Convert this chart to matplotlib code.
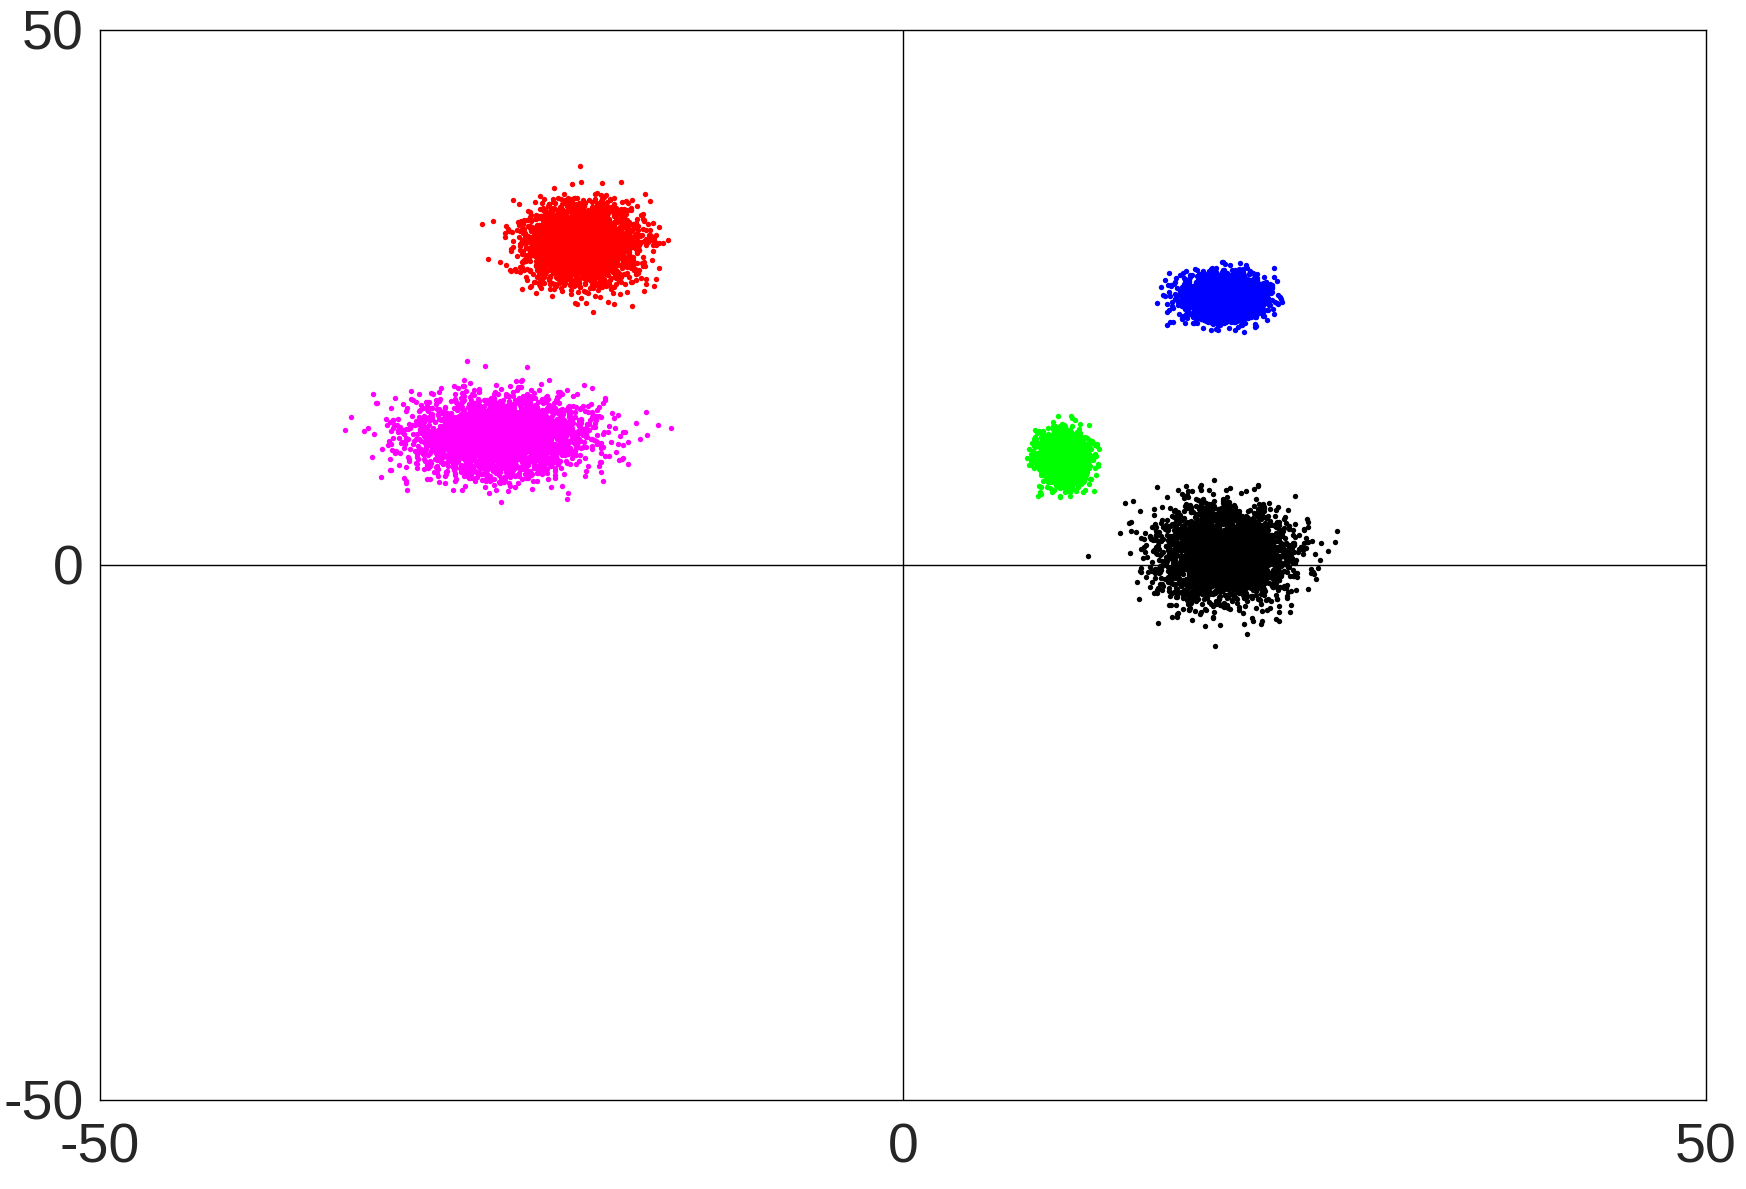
import numpy as np
import matplotlib
matplotlib.use('Agg')
import matplotlib.pyplot as plt

plt.rcParams['font.family'] = ['Liberation Sans', 'DejaVu Sans']
plt.rcParams['axes.unicode_minus'] = False

# cluster parameters (centre, spread, colour)
names = ['red', 'magenta', 'blue', 'green', 'black']
centers_x = [-20.0, -25.0, 20.0, 10.0, 20.0]
centers_y = [30.0, 12.0, 25.0, 10.0, 1.0]
sigma_x = [1.7, 2.8, 1.2, 0.7, 2.0]
sigma_y = [1.8, 1.8, 1.0, 1.1, 2.2]
colors = ['#ff0000', '#ff00ff', '#0000ff', '#00ff00', '#000000']
n_points = 3000

ticks = [-50, 0, 50]

rng = np.random.default_rng(7)

fig = plt.figure(figsize=(17.46, 11.89), dpi=100)
ax = fig.add_axes([0.0573, 0.0749, 0.9197, 0.9001])

for cx, cy, sx, sy, c in zip(centers_x, centers_y, sigma_x, sigma_y, colors):
    x = rng.normal(cx, sx, n_points)
    y = rng.normal(cy, sy, n_points)
    ax.scatter(x, y, s=15, c=c, marker='o', linewidths=0)

ax.axhline(0, color='black', lw=1)
ax.axvline(0, color='black', lw=1)

ax.set_xlim(-50, 50)
ax.set_ylim(-50, 50)
ax.set_xticks(ticks)
ax.set_yticks(ticks)
ax.tick_params(length=0, labelsize=40, labelcolor='#262626')
ax.tick_params(axis='x', pad=16)
ax.tick_params(axis='y', pad=12)
for sp in ax.spines.values():
    sp.set_linewidth(1)

fig.savefig('out.png', dpi=100)
